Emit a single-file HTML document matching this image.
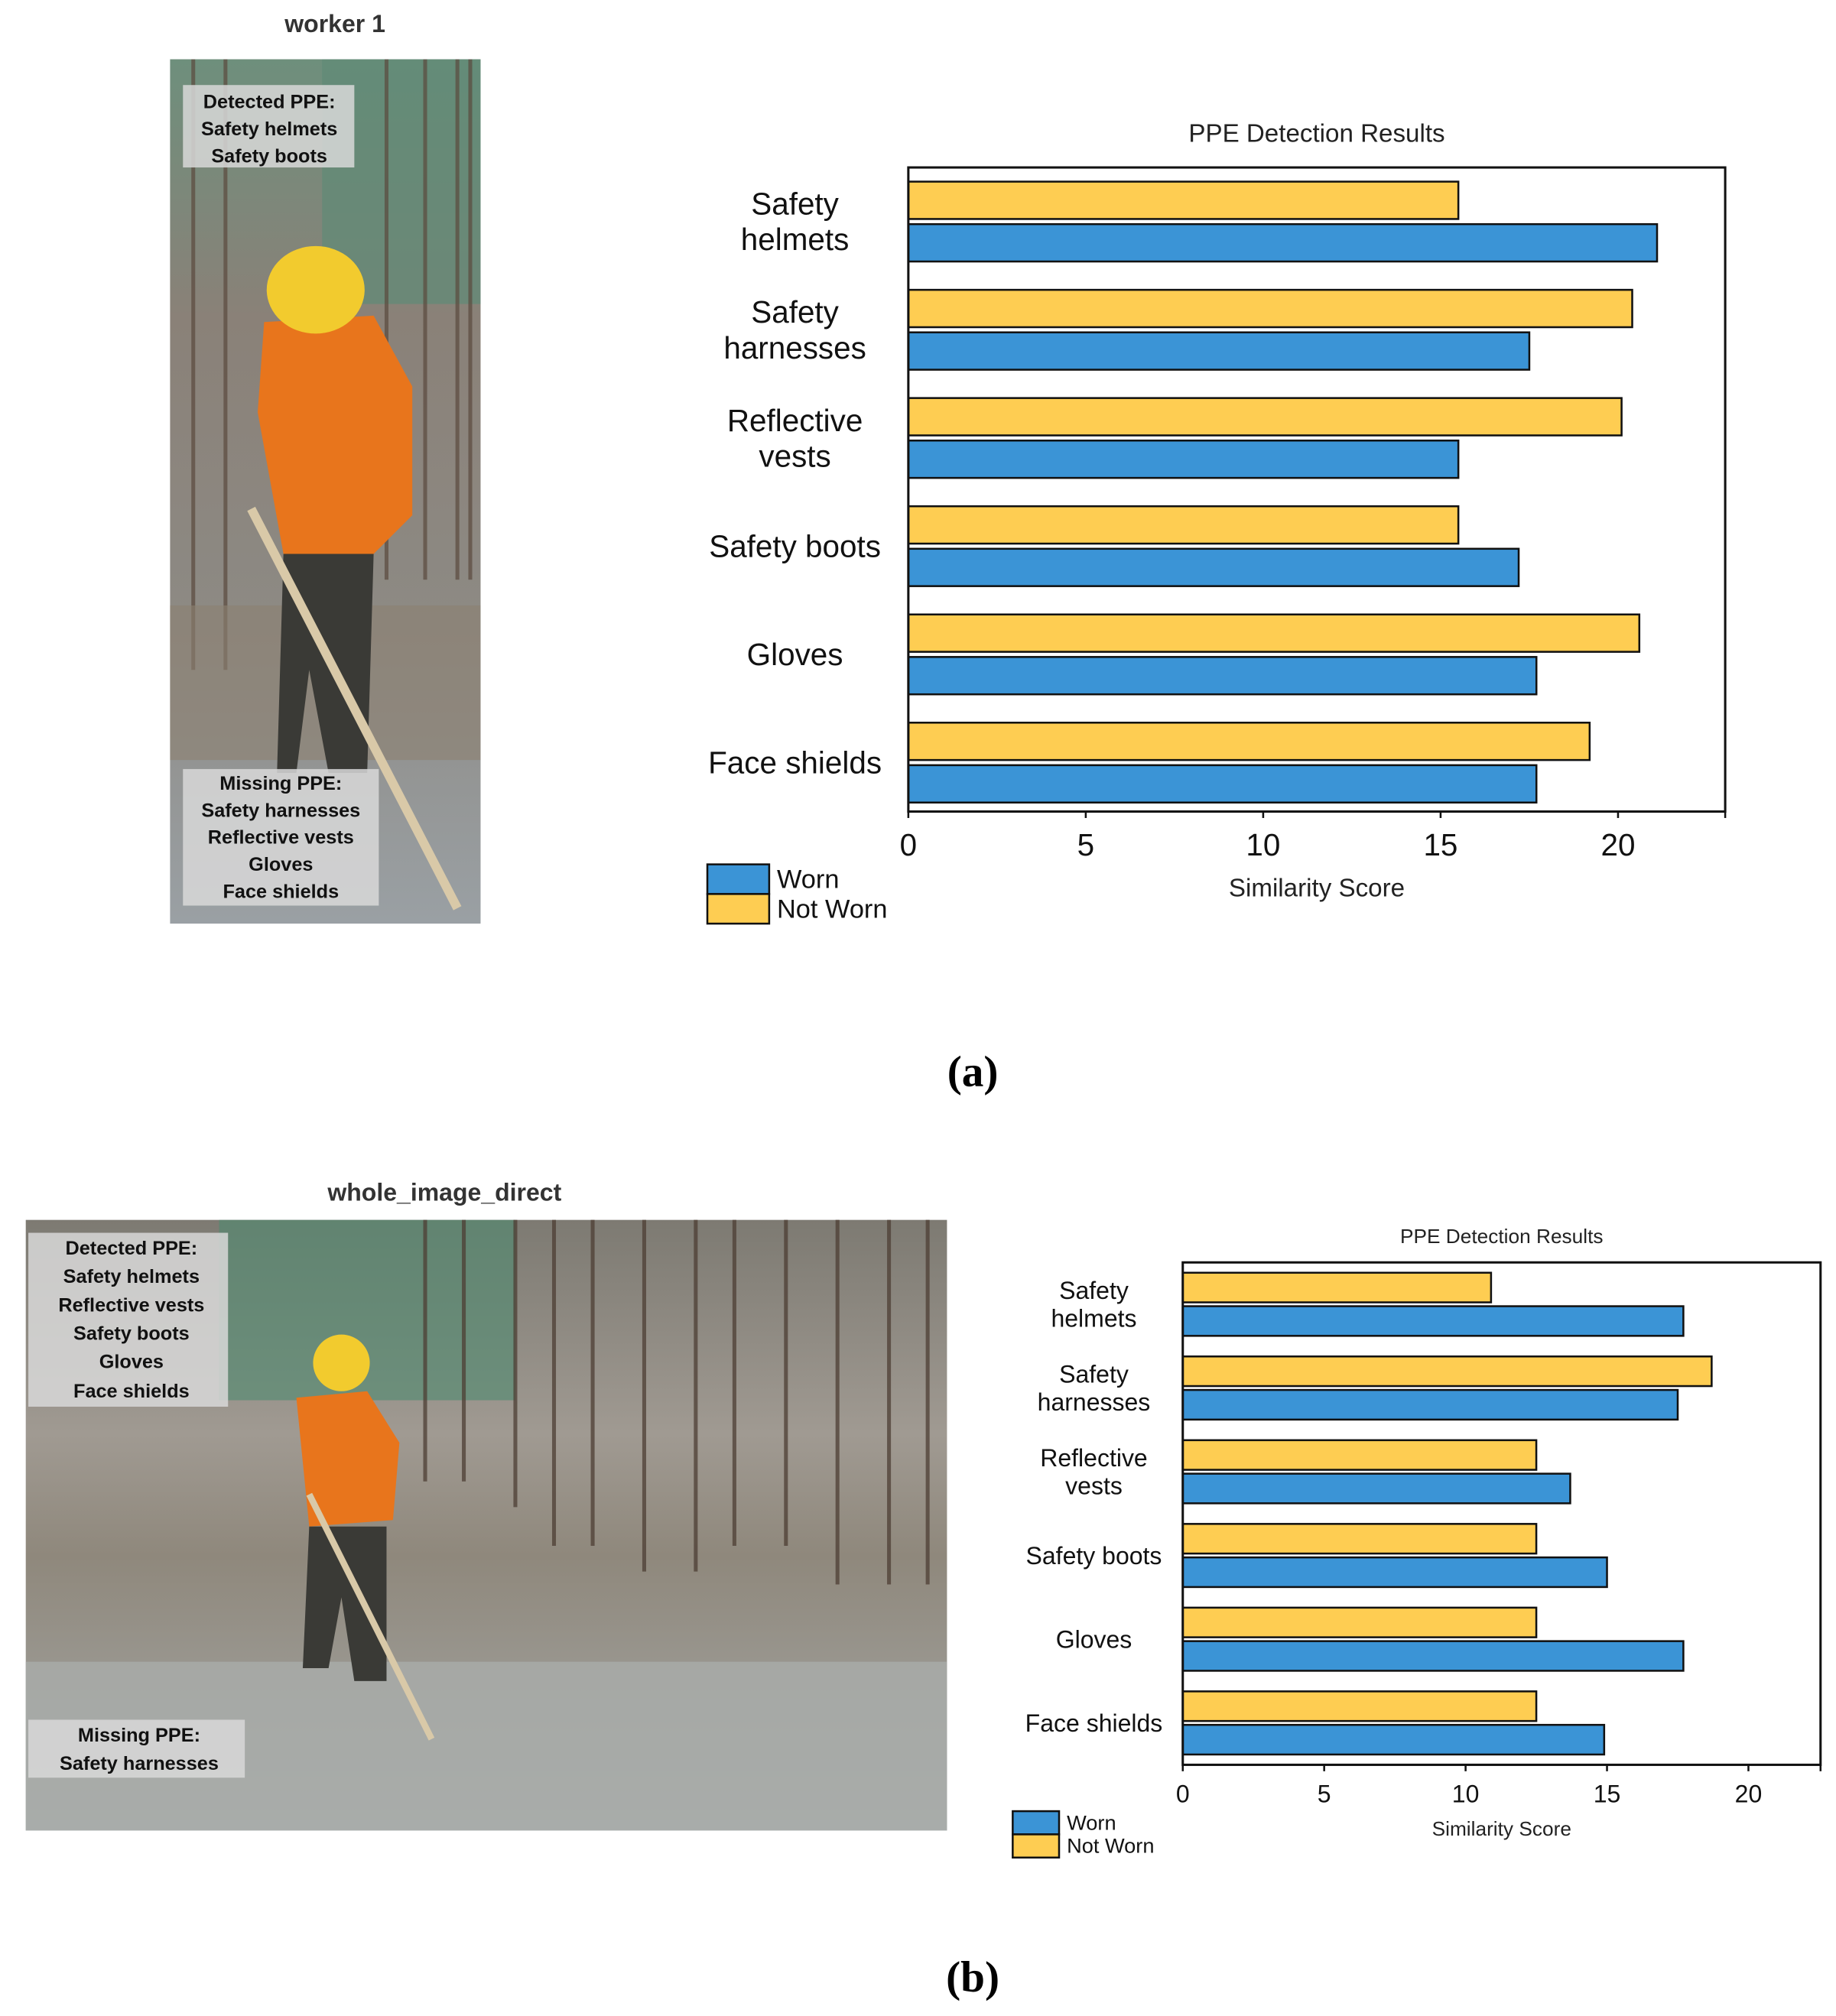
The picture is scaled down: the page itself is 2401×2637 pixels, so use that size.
<!DOCTYPE html>
<html><head><meta charset="utf-8"><style>
html,body{margin:0;padding:0;background:#fff;}
svg{display:block;}
text{font-family:"Liberation Sans",sans-serif;}
</style></head><body>
<svg id="fig" width="2401" height="2637" viewBox="0 0 1425 1565" preserveAspectRatio="none" xmlns="http://www.w3.org/2000/svg">
<defs>
<linearGradient id="gA" x1="0" y1="0" x2="0" y2="1">
<stop offset="0" stop-color="#6e8f7c"/><stop offset="0.3" stop-color="#8a8178"/><stop offset="0.65" stop-color="#8d8a84"/><stop offset="1" stop-color="#9aa0a4"/></linearGradient>
<linearGradient id="gB" x1="0" y1="0" x2="0" y2="1">
<stop offset="0" stop-color="#7d7a72"/><stop offset="0.35" stop-color="#a09a92"/><stop offset="0.55" stop-color="#8f887c"/><stop offset="1" stop-color="#a7aaa9"/></linearGradient>
</defs>

<!-- panel a photo -->
<text x="260" y="25" text-anchor="middle" font-size="19" font-weight="bold" fill="#333">worker 1</text>
<g>
<rect x="132" y="46" width="241" height="671" fill="url(#gA)"/>
<rect x="250" y="46" width="123" height="190" fill="#5f8a76" opacity="0.7"/>
<g stroke="#5b4a3e" stroke-width="3" opacity="0.7">
<line x1="150" y1="46" x2="150" y2="520"/><line x1="175" y1="46" x2="175" y2="520"/><line x1="300" y1="46" x2="300" y2="450"/><line x1="330" y1="46" x2="330" y2="450"/><line x1="355" y1="46" x2="355" y2="450"/><line x1="365" y1="46" x2="365" y2="450"/></g>
<rect x="132" y="470" width="241" height="120" fill="#8c8172" opacity="0.6"/>
<path d="M205 250 L290 245 L320 300 L320 400 L290 430 L220 430 L200 320 Z" fill="#e8751c"/>
<path d="M220 430 L290 430 L285 600 L255 600 L240 520 L230 600 L215 600 Z" fill="#3a3a36"/>
<ellipse cx="245" cy="225" rx="38" ry="34" fill="#f2cb2e"/>
<line x1="195" y1="395" x2="355" y2="705" stroke="#d9c9a8" stroke-width="7"/>
<rect x="142" y="66" width="133" height="64" fill="#d8d8d8" opacity="0.85"/>
<g font-size="15" font-weight="bold" fill="#111" text-anchor="middle" font-family="Liberation Sans,sans-serif">
<text x="209" y="84">Detected PPE:</text><text x="209" y="105">Safety helmets</text><text x="209" y="126">Safety boots</text></g>
<rect x="142" y="597" width="152" height="106" fill="#d8d8d8" opacity="0.85"/>
<g font-size="15" font-weight="bold" fill="#111" text-anchor="middle">
<text x="218" y="613">Missing PPE:</text><text x="218" y="634">Safety harnesses</text><text x="218" y="655">Reflective vests</text><text x="218" y="676">Gloves</text><text x="218" y="697">Face shields</text></g>
</g>

<!-- panel b photo -->
<text x="345" y="932" text-anchor="middle" font-size="19" font-weight="bold" fill="#333">whole_image_direct</text>
<g>
<rect x="20" y="947" width="715" height="474" fill="url(#gB)"/>
<rect x="170" y="947" width="230" height="140" fill="#4f8a70" opacity="0.6"/>
<g stroke="#4d3e34" stroke-width="3" opacity="0.75">
<line x1="330" y1="947" x2="330" y2="1150"/><line x1="360" y1="947" x2="360" y2="1150"/><line x1="400" y1="947" x2="400" y2="1170"/><line x1="430" y1="947" x2="430" y2="1200"/><line x1="460" y1="947" x2="460" y2="1200"/><line x1="500" y1="947" x2="500" y2="1220"/><line x1="540" y1="947" x2="540" y2="1220"/><line x1="570" y1="947" x2="570" y2="1200"/><line x1="610" y1="947" x2="610" y2="1200"/><line x1="650" y1="947" x2="650" y2="1230"/><line x1="690" y1="947" x2="690" y2="1230"/><line x1="720" y1="947" x2="720" y2="1230"/></g>
<rect x="20" y="1290" width="715" height="131" fill="#a9adaa" opacity="0.8"/>
<path d="M230 1085 L285 1080 L310 1120 L305 1180 L240 1185 Z" fill="#e8751c"/>
<path d="M240 1185 L300 1185 L300 1305 L275 1305 L265 1240 L255 1295 L235 1295 Z" fill="#3a3a36"/>
<ellipse cx="265" cy="1058" rx="22" ry="22" fill="#f2cb2e"/>
<line x1="240" y1="1160" x2="335" y2="1350" stroke="#d9c9a8" stroke-width="5"/>
<rect x="22" y="957" width="155" height="135" fill="#d8d8d8" opacity="0.85"/>
<g font-size="15" font-weight="bold" fill="#111" text-anchor="middle">
<text x="102" y="974">Detected PPE:</text><text x="102" y="996">Safety helmets</text><text x="102" y="1018">Reflective vests</text><text x="102" y="1040">Safety boots</text><text x="102" y="1062">Gloves</text><text x="102" y="1085">Face shields</text></g>
<rect x="22" y="1335" width="168" height="45" fill="#d8d8d8" opacity="0.85"/>
<g font-size="15" font-weight="bold" fill="#111" text-anchor="middle">
<text x="108" y="1352">Missing PPE:</text><text x="108" y="1374">Safety harnesses</text></g>
</g>

<text x="755" y="843" text-anchor="middle" font-size="34" font-weight="bold" font-family="Liberation Serif,serif" style="font-family:'Liberation Serif',serif">(a)</text>
<text x="755" y="1546" text-anchor="middle" font-size="34" font-weight="bold" style="font-family:'Liberation Serif',serif">(b)</text>

<g id="chartA"></g>
<g id="chartB"></g>
</svg>
<script>
const categories = ["Safety helmets","Safety harnesses","Reflective vests","Safety boots","Gloves","Face shields"];
const labelLines = [["Safety","helmets"],["Safety","harnesses"],["Reflective","vests"],["Safety boots"],["Gloves"],["Face shields"]];
const notWornA = [15.5, 20.4, 20.1, 15.5, 20.6, 19.2];
const wornA = [21.1, 17.5, 15.5, 17.2, 17.7, 17.7];
const notWornB = [10.9, 18.7, 12.5, 12.5, 12.5, 12.5];
const wornB = [17.7, 17.5, 13.7, 15.0, 17.7, 14.9];
const ticks = [0, 5, 10, 15, 20];
const NS = "http://www.w3.org/2000/svg";
function mk(tag, attrs, parent, txt){const e=document.createElementNS(NS,tag);for(const k in attrs)e.setAttribute(k,attrs[k]);if(txt!==undefined)e.textContent=txt;parent.appendChild(e);return e;}
function draw(g, cfg, notWorn, worn){
  const xs = v => cfg.x0 + v*(cfg.x1-cfg.x0)/cfg.xmax;
  const t = mk("text",{x:(cfg.x0+cfg.x1)/2,y:cfg.titleY,"text-anchor":"middle","font-size":cfg.fs*0.82,fill:"#222"},g,"PPE Detection Results");
  
  
  categories.forEach((c,i)=>{
    const yT = cfg.bar0 + i*cfg.step;
    const r1 = mk("rect",{x:xs(0),y:yT,width:xs(notWorn[i])-xs(0),height:cfg.bh,fill:"#fecd52",stroke:"#111","stroke-width":1.5},g);
    
    
    const r2 = mk("rect",{x:xs(0),y:yT+cfg.bh+cfg.gap,width:xs(worn[i])-xs(0),height:cfg.bh,fill:"#3b94d6",stroke:"#111","stroke-width":1.5},g);
    
    
    const mid = yT + cfg.bh + cfg.gap/2;
    const ls = labelLines[i];
    ls.forEach((ln,j)=>{
      const yy = mid + cfg.fs*0.35 + (j-(ls.length-1)/2)*cfg.fs*1.15;
      const lt = mk("text",{x:cfg.labX,y:yy,"text-anchor":"middle","font-size":cfg.fs,fill:"#111"},g,ln);
      
      
    });
  });
  const fr = mk("rect",{x:cfg.x0,y:cfg.y0,width:cfg.x1-cfg.x0,height:cfg.y1-cfg.y0,fill:"none",stroke:"#111","stroke-width":1.8},g);
  
  
  ticks.forEach(v=>{
    mk("line",{x1:xs(v),x2:xs(v),y1:cfg.y1,y2:cfg.y1+5,stroke:"#111","stroke-width":1.5},g);
    const tt = mk("text",{x:xs(v),y:cfg.tickY,"text-anchor":"middle","font-size":cfg.fs,fill:"#111"},g,String(v));
    
    
  });
  mk("line",{x1:cfg.x1,x2:cfg.x1,y1:cfg.y1,y2:cfg.y1+5,stroke:"#111","stroke-width":1.5},g);
  const xl = mk("text",{x:(cfg.x0+cfg.x1)/2,y:cfg.xlabY,"text-anchor":"middle","font-size":cfg.fs*0.82,fill:"#222"},g,"Similarity Score");
  
  
  const lb = mk("rect",{x:cfg.legX,y:cfg.legY,width:cfg.legW,height:cfg.legH,fill:"#3b94d6",stroke:"#111","stroke-width":1.5},g);
  
  
  const ly = mk("rect",{x:cfg.legX,y:cfg.legY+cfg.legH,width:cfg.legW,height:cfg.legH,fill:"#fecd52",stroke:"#111","stroke-width":1.5},g);
  
  
  const l1 = mk("text",{x:cfg.legX+cfg.legW+6,y:cfg.legY+cfg.legH*0.8,"font-size":cfg.fs*0.85,fill:"#111"},g,"Worn");
  
  
  const l2 = mk("text",{x:cfg.legX+cfg.legW+6,y:cfg.legY+cfg.legH*1.8,"font-size":cfg.fs*0.85,fill:"#111"},g,"Not Worn");
  
  
}
draw(document.getElementById("chartA"),{x0:705,x1:1339,y0:130,y1:630,xmax:23.02,bar0:141,step:84,bh:29,gap:4,labX:617,fs:24,titleY:110,tickY:664,xlabY:696,legX:549,legY:671,legW:48,legH:23},notWornA,wornA);
draw(document.getElementById("chartB"),{x0:918,x1:1413,y0:980,y1:1370,xmax:22.55,bar0:988,step:65,bh:23,gap:3,labX:849,fs:19,titleY:965,tickY:1399,xlabY:1425,legX:786,legY:1406,legW:36,legH:18},notWornB,wornB);
</script>
</body></html>
